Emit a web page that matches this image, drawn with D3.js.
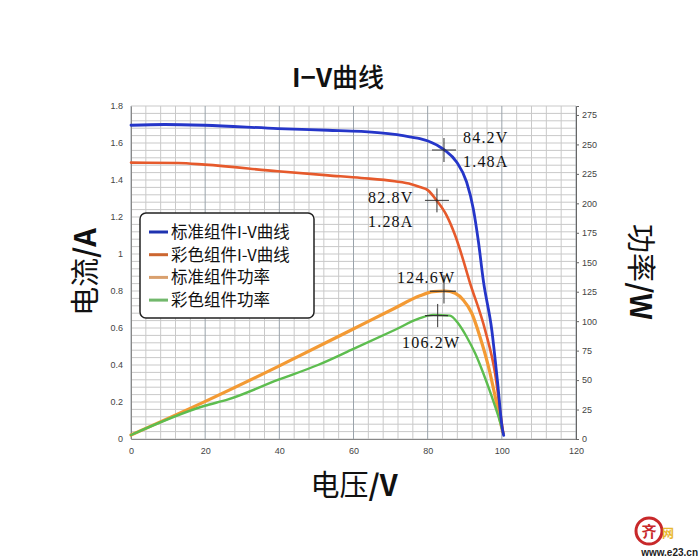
<!DOCTYPE html>
<html>
<head>
<meta charset="utf-8">
<script src="https://cdn.jsdelivr.net/npm/d3@7"></script>
<style>
    body { margin: 0; background: #fff; }
    svg { display: block; }
</style>
</head>
<body>
<svg width="700" height="560"></svg>
<script>
// values
var voltTicks = [0, 20, 40, 60, 80, 100, 120];
var ampTicks = [0, 0.2, 0.4, 0.6, 0.8, 1, 1.2, 1.4, 1.6, 1.8];
var wattTicks = [0, 25, 50, 75, 100, 125, 150, 175, 200, 225, 250, 275];

var stdIvVolt = [0, 9.1, 19.9, 39.6, 53.1, 62.1, 71.1, 75.6, 77.9, 80.1, 84.4, 87.8, 90.5, 92.3, 93.7, 95.0, 97.3, 98.8, 100.2, 100.5];
var stdIvAmp = [1.696, 1.70, 1.696, 1.678, 1.669, 1.663, 1.647, 1.632, 1.624, 1.611, 1.564, 1.497, 1.389, 1.245, 1.065, 0.858, 0.588, 0.317, 0.047, 0.02];

var colIvVolt = [0, 12.7, 19.9, 39.6, 53.1, 62.1, 71.1, 75.6, 77.9, 80.1, 82.4, 85.1, 87.4, 89.2, 91.2, 95.5, 98.2, 100.0, 100.4];
var colIvAmp = [1.494, 1.492, 1.483, 1.447, 1.425, 1.411, 1.393, 1.377, 1.362, 1.344, 1.29, 1.209, 1.101, 0.993, 0.858, 0.588, 0.353, 0.083, 0.029];

var stdPwVolt = [0, 19.9, 39.6, 59.4, 71.1, 77.9, 81.5, 84.7, 87.4, 89.6, 91.9, 94.1, 96.4, 98.6, 100.2];
var stdPwWatt = [3.4, 31.7, 61.4, 92.5, 111, 121.5, 125, 125.6, 123.7, 118, 106.7, 86.8, 61.4, 30.2, 6.2];

var colPwVolt = [0, 19.9, 26.2, 39.6, 50.4, 59.4, 71.1, 77.9, 81.5, 86.0, 88.2, 90.5, 92.8, 95.0, 97.3, 99.1, 100.4];
var colPwWatt = [3.4, 28.2, 33.6, 50.1, 62.8, 75.6, 92.5, 102.5, 105.3, 104.7, 98.2, 86.8, 72.7, 55.8, 35.9, 18.9, 4.8];

var legendNames = ["标准组件I-V曲线", "彩色组件I-V曲线", "标准组件功率", "彩色组件功率"];

// max points: [volt, value] of the cross, and its labels
var ivCrossVolt = [84.4, 82.5];
var ivCrossAmp = [1.562, 1.29];
var ivLabels = [["84.2V", "1.48A"], ["82.8V", "1.28A"]];
var pwPeakVolt = [84.4, 82.7];
var pwPeakWatt = [125.4, 104.7];
var pwLabels = ["124.6W", "106.2W"];

var svg = d3.select("svg");

var x = d3.scaleLinear().domain([0, 120]).range([131, 576]);
var yI = d3.scaleLinear().domain([0, 1.8]).range([439, 106]);
var yP = d3.scaleLinear().domain([0, 282.6]).range([439, 106]);

var colors = ["#2536c9", "#e65a2c", "#f39a34", "#5dbd4f"];
var legendColors = ["#1f33b0", "#cc6630", "#d9a06e", "#72b86c"];

// grid
var grid = svg.append("g");
grid.selectAll(".hg")
    .data(d3.range(0, 1.8001, 0.04))
    .enter().append("line")
    .attr("x1", x(0)).attr("x2", x(120))
    .attr("y1", function(d) { return yI(d); })
    .attr("y2", function(d) { return yI(d); })
    .attr("stroke", "#c9c9c9")
    .attr("stroke-width", 1);
grid.selectAll(".vg")
    .data(d3.range(0, 120.01, 4))
    .enter().append("line")
    .attr("y1", yI(0)).attr("y2", yI(1.8))
    .attr("x1", function(d) { return x(d); })
    .attr("x2", function(d) { return x(d); })
    .attr("stroke", function(d) { return Math.round(d) % 20 == 0 ? "#9aa3ab" : "#c9c9c9"; })
    .attr("stroke-width", 1);

// axes
var tickFont = "Liberation Sans, Arial, sans-serif";

var left = svg.append("g")
    .attr("transform", "translate(" + x(0) + ",0)")
    .call(d3.axisLeft(yI).tickValues(ampTicks).tickSize(0).tickPadding(8)
        .tickFormat(function(d) { return d3.format("~g")(d); }));
left.select(".domain").attr("stroke", "#888");

var bottom = svg.append("g")
    .attr("transform", "translate(0," + yI(0) + ")")
    .call(d3.axisBottom(x).tickValues(voltTicks).tickSize(0).tickPadding(9));
bottom.select(".domain").attr("stroke", "#888");

var right = svg.append("g")
    .attr("transform", "translate(" + x(120) + ",0)")
    .call(d3.axisRight(yP).tickValues(wattTicks).tickSize(3).tickPadding(3));
right.select(".domain").attr("stroke", "#666");
right.selectAll(".tick line").attr("stroke", "#666");

svg.selectAll(".tick text")
    .style("font-family", tickFont)
    .style("font-size", "9px")
    .attr("fill", "#444");

// curves
function draw_curve(volts, vals, yScale, color, width) {
    var pts = volts.map(function(v, i) { return [v, vals[i]]; });
    var line = d3.line()
        .x(function(d) { return x(d[0]); })
        .y(function(d) { return yScale(d[1]); })
        .curve(d3.curveMonotoneX);
    svg.append("path")
        .datum(pts)
        .attr("d", line)
        .attr("fill", "none")
        .attr("stroke", color)
        .attr("stroke-width", width)
        .attr("stroke-linejoin", "round")
        .attr("stroke-linecap", "round");
}

draw_curve(stdPwVolt, stdPwWatt, yP, colors[2], 3.2);
draw_curve(colPwVolt, colPwWatt, yP, colors[3], 2.4);
draw_curve(colIvVolt, colIvAmp, yI, colors[1], 2.6);
draw_curve(stdIvVolt, stdIvAmp, yI, colors[0], 2.8);

// max point marks
var markFont = "Liberation Serif, DejaVu Serif, serif";

for (var i = 0; i < ivCrossVolt.length; i++) {
    var cx = x(ivCrossVolt[i]), cy = yI(ivCrossAmp[i]);
    svg.append("line").attr("x1", cx - 12).attr("x2", cx + 12).attr("y1", cy).attr("y2", cy)
        .attr("stroke", "#333").attr("stroke-width", 1);
    svg.append("line").attr("x1", cx).attr("x2", cx).attr("y1", cy - 12).attr("y2", cy + 12)
        .attr("stroke", "#333").attr("stroke-width", 1);
}

svg.append("g").selectAll("text")
    .data([[463, 143, ivLabels[0][0]], [463, 167, ivLabels[0][1]],
           [368, 203, ivLabels[1][0]], [368, 227, ivLabels[1][1]]])
    .enter().append("text")
    .attr("x", function(d) { return d[0]; })
    .attr("y", function(d) { return d[1]; })
    .text(function(d) { return d[2]; })
    .style("font-family", markFont)
    .style("font-size", "16px")
    .style("letter-spacing", "1.2px")
    .attr("fill", "#111");

// power peaks: flat bar on the curve plus a short vertical tick
var peakTop = [139, 114.6], peakBot = [115, 94.9];
var barFrom = [80.6, 79.3], barTo = [87.6, 85.5];
for (var j = 0; j < pwPeakVolt.length; j++) {
    svg.append("line")
        .attr("x1", x(barFrom[j])).attr("x2", x(barTo[j]))
        .attr("y1", yP(pwPeakWatt[j])).attr("y2", yP(pwPeakWatt[j]))
        .attr("stroke", "#333").attr("stroke-width", 1.2);
    svg.append("line")
        .attr("x1", x(pwPeakVolt[j])).attr("x2", x(pwPeakVolt[j]))
        .attr("y1", yP(peakTop[j])).attr("y2", yP(peakBot[j]))
        .attr("stroke", "#333").attr("stroke-width", 1);
}

svg.append("text").attr("x", 397).attr("y", 283).text(pwLabels[0])
    .style("font-family", markFont).style("font-size", "16px").style("letter-spacing", "1.2px").attr("fill", "#111");
svg.append("text").attr("x", 402).attr("y", 348).text(pwLabels[1])
    .style("font-family", markFont).style("font-size", "16px").style("letter-spacing", "1.2px").attr("fill", "#111");

// legend
var lg = svg.append("g").attr("transform", "translate(140,213)");
lg.append("rect")
    .attr("width", 174).attr("height", 105)
    .attr("rx", 6).attr("ry", 6)
    .attr("fill", "#fff")
    .attr("stroke", "#222")
    .attr("stroke-width", 1.5);

var item = lg.selectAll(".item")
    .data(legendNames)
    .enter().append("g")
    .attr("transform", function(d, i) { return "translate(0," + (19 + i * 22.7) + ")"; });

item.append("line")
    .attr("x1", 9).attr("x2", 28)
    .attr("stroke", function(d, i) { return legendColors[i]; })
    .attr("stroke-width", 3);

item.append("text")
    .attr("x", 31).attr("y", 6)
    .text(function(d) { return d; })
    .style("font-family", "Noto Sans CJK SC, sans-serif")
    .style("font-size", "16.5px")
    .attr("fill", "#111");

// titles: Chinese part regular, latin part bold
function title(t, cjk, latin, size) {
    var el = t.style("font-family", "Noto Sans CJK SC, sans-serif")
        .style("font-size", size + "px")
        .attr("text-anchor", "middle")
        .attr("fill", "#111");
    el.append("tspan").text(cjk).style("font-weight", "normal");
    el.append("tspan").text(latin).style("font-weight", "bold");
    return el;
}

var tt = svg.append("text")
    .attr("x", 338).attr("y", 87)
    .attr("text-anchor", "middle")
    .style("font-family", "Noto Sans CJK SC, sans-serif")
    .style("font-size", "26px")
    .attr("fill", "#111");
tt.append("tspan").text("I−V").style("font-weight", "bold");
tt.append("tspan").text("曲线").style("font-weight", "500");

title(svg.append("text").attr("x", 354).attr("y", 496), "电压", "/V", 29);
title(svg.append("text").attr("transform", "translate(96,272) rotate(-90)"), "电流", "/A", 29);
title(svg.append("text").attr("transform", "translate(630,272) rotate(90)"), "功率", "/W", 29);

// site watermark, bottom right
var wm = svg.append("g");
wm.append("circle").attr("cx", 649).attr("cy", 531).attr("r", 13)
    .attr("fill", "#fff").attr("stroke", "#c8282a").attr("stroke-width", 3);
wm.append("text").attr("x", 649).attr("y", 537).attr("text-anchor", "middle")
    .text("齐").style("font-family", "Noto Sans CJK SC, sans-serif")
    .style("font-size", "15px").style("font-weight", "bold").attr("fill", "#c8282a");
wm.append("text").attr("x", 662).attr("y", 538)
    .text("网").style("font-family", "Noto Sans CJK SC, sans-serif")
    .style("font-size", "12px").style("font-weight", "bold").attr("fill", "#e8b830");
wm.append("text").attr("x", 698).attr("y", 556).attr("text-anchor", "end")
    .text("www.e23.cn").style("font-family", "Liberation Sans, sans-serif")
    .style("font-size", "10px").style("font-weight", "bold").attr("fill", "#222");
</script>
</body>
</html>
